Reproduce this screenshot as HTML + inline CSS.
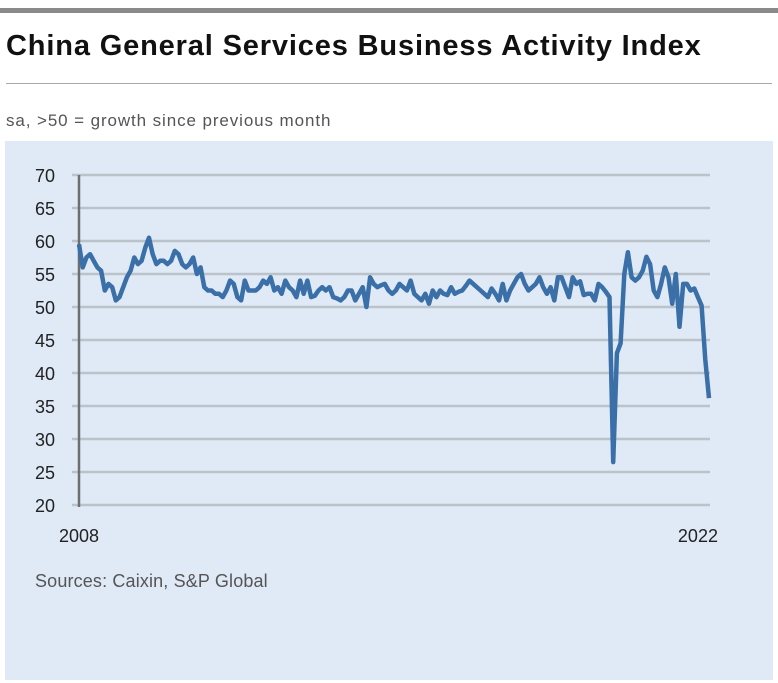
<!DOCTYPE html>
<html><head><meta charset="utf-8">
<style>
body{margin:0;width:778px;height:683px;background:#fff;font-family:"Liberation Sans",sans-serif;overflow:hidden;position:relative}
#topbar{position:absolute;left:0;top:8px;width:778px;height:5px;background:#8a8a8a}
#title{position:absolute;left:6px;top:30px;font-size:29px;font-weight:bold;color:#111;letter-spacing:0.85px}
#rule{position:absolute;left:6px;top:83px;width:766px;height:1px;background:#aaa}
#sub{position:absolute;left:6px;top:111px;font-size:17px;color:#555;letter-spacing:0.9px}
#panel{position:absolute;left:5px;top:141px;width:768px;height:539px;background:#dfeaf6}
svg{position:absolute;left:0;top:0}
</style></head><body>
<div id="topbar"></div>
<div id="title">China General Services Business Activity Index</div>
<div id="rule"></div>
<div id="sub">sa, &gt;50 = growth since previous month</div>
<div id="panel"></div>
<svg id="chart" width="778" height="683"></svg>
<script>
const yTicks=[20,25,30,35,40,45,50,55,60,65,70];
const xLabels=["2008","2022"];
const xLabelIdx=[0,168];
const values=[59.5,56,57.5,58,57,56,55.5,52.5,53.5,53,51,51.5,
53,54.5,55.5,57.5,56.5,57,59,60.5,58,56.5,57,57,
56.5,57,58.5,58,56.5,56,56.5,57.5,55,56,53,52.5,
52.5,52,52,51.5,52.5,54,53.5,51.5,51,54,52.5,52.5,
52.5,53,54,53.5,54.5,52.5,53,52,54,53,52.5,51.5,
54,52,54,51.5,51.7,52.5,53,52.5,53,51.5,51.3,51,
51.5,52.5,52.5,51,52,53,50,54.5,53.5,53,53.3,53.5,
52.5,52,52.5,53.5,53,52.5,54,52,51.5,51,52,50.5,
52.5,51.5,52.5,52,51.8,53,52,52.3,52.5,53.2,54,53.5,
53,52.5,52,51.5,52.8,52,51,53.5,51,52.5,53.5,54.5,
55,53.5,52.5,53,53.5,54.5,53,52,53,51,54.5,54.5,
53,51.5,54.5,53.5,53.9,51.8,52,52,51,53.5,53,52.3,
51.5,26.5,43,44.5,55,58.3,54.5,54,54.5,55.5,57.6,56.5,
52.5,51.5,53.5,56,54.5,50.5,55,47,53.5,53.5,52.5,52.8,
51.5,50.2,42,36.2];
const NS="http://www.w3.org/2000/svg";
const svg=document.getElementById('chart');
const x0=79,x1=709,yTop=175,yBot=505,vMin=20,vMax=70;
function xs(i){return x0+i*(x1-x0)/(values.length-1);}
function ys(v){return yBot-(v-vMin)/(vMax-vMin)*(yBot-yTop);}
function mk(t,a){const e=document.createElementNS(NS,t);for(const k in a)e.setAttribute(k,a[k]);svg.appendChild(e);return e;}
yTicks.forEach(v=>{
 const g=mk('line',{x1:72,x2:710,y1:ys(v),y2:ys(v),stroke:'#bcc2ca','stroke-width':2.5});
 
 
 const t=mk('text',{x:55,y:ys(v)+7,'text-anchor':'end','font-size':18,fill:'#222','font-family':'Liberation Sans, sans-serif'});
 t.textContent=v;
 
 
});
const ax=mk('line',{x1:x0,x2:x0,y1:yTop,y2:yBot+2,stroke:'#6e6e6e','stroke-width':2.5});


xLabels.forEach((l,k)=>{
 const t=mk('text',{x:xs(xLabelIdx[k]),y:542,'text-anchor':'middle','font-size':18,fill:'#222','font-family':'Liberation Sans, sans-serif'});
 t.textContent=l;
 
 
});
const p=mk('path',{d:values.map((v,i)=>(i?'L':'M')+xs(i).toFixed(1)+','+ys(v).toFixed(1)).join(''),fill:'none',stroke:'#3a6fa8','stroke-width':4.5,'stroke-linejoin':'round'});


const s=mk('text',{x:35,y:587,'font-size':18,fill:'#555','font-family':'Liberation Sans, sans-serif','letter-spacing':0.15});
s.textContent='Sources: Caixin, S&P Global';


</script>
</body></html>
